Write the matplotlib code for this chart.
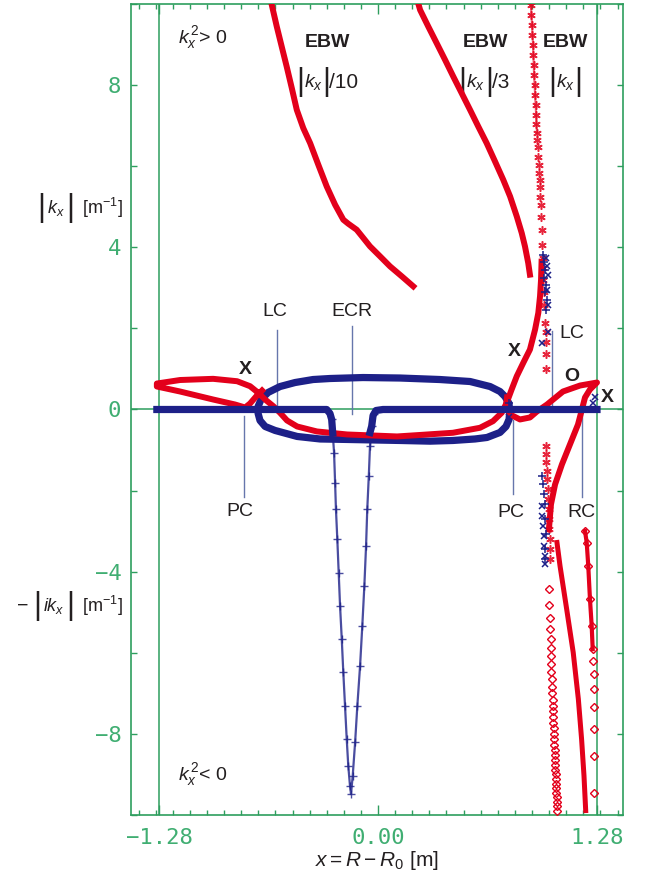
import matplotlib.pyplot as plt
from matplotlib.ticker import FixedLocator, MultipleLocator, FuncFormatter

plt.rcParams['font.family'] = ['Liberation Sans', 'DejaVu Sans']
plt.rcParams['mathtext.fontset'] = 'custom'
plt.rcParams['mathtext.rm'] = 'Liberation Sans'
plt.rcParams['mathtext.it'] = 'Liberation Sans:italic'
plt.rcParams['mathtext.bf'] = 'Liberation Sans:bold'

RED = '#e3001b'
BLUE = '#1d2088'
GREEN = '#2e9e5e'
TICKTEXT = '#40ae72'
GUIDE = '#6676ac'
INK = '#231f20'

# EBW branch, plotted as |kx|/10
ebw10_x = [-0.621, -0.592, -0.563, -0.534, -0.504, -0.475, -0.437, -0.397, -0.349, -0.300,
           -0.251, -0.203, -0.174, -0.125, -0.086, -0.047, 0.012, 0.070, 0.139, 0.206]
ebw10_y = [9.975, 9.443, 8.948, 8.456, 7.923, 7.389, 6.938, 6.569, 6.034, 5.500,
           5.049, 4.680, 4.581, 4.433, 4.229, 4.023, 3.776, 3.530, 3.283, 3.037]

# EBW branch, plotted as |kx|/3
ebw3_x = [0.236, 0.246, 0.294, 0.343, 0.392, 0.440, 0.489, 0.538, 0.586, 0.635,
          0.684, 0.732, 0.772, 0.811, 0.840, 0.859, 0.878, 0.888]
ebw3_y = [10.0, 9.852, 9.441, 9.032, 8.621, 8.209, 7.800, 7.389, 6.978, 6.569,
          6.116, 5.665, 5.254, 4.761, 4.352, 4.022, 3.613, 3.325]

# EBW branch, plotted as |kx| (asterisks), continuing into -|ikx|
ebw_x = [0.894, 0.897, 0.900, 0.903, 0.906, 0.908, 0.910, 0.912, 0.915, 0.918,
         0.921, 0.924, 0.926, 0.929, 0.931, 0.933, 0.937, 0.939, 0.943, 0.945,
         0.947, 0.949, 0.951, 0.954, 0.957, 0.959, 0.962, 0.964, 0.967, 0.970,
         0.973, 0.976, 0.980, 0.980, 0.980, 0.980,
         0.980, 0.980, 0.980, 0.985, 0.988, 0.991, 0.994, 0.997, 0.999, 1.002,
         1.005, 1.005, 1.005]
ebw_y = [9.975, 9.729, 9.483, 9.236, 8.990, 8.744, 8.497, 8.251, 8.005, 7.758,
         7.512, 7.266, 7.044, 6.823, 6.650, 6.478, 6.232, 6.035, 5.837, 5.665,
         5.493, 5.246, 5.049, 4.754, 4.433, 4.064, 3.744, 3.497, 3.202, 2.906,
         2.586, 2.143, 1.921, 1.675, 1.379, 1.010,
         -0.911, -1.108, -1.305, -1.527, -1.724, -1.970, -2.217, -2.463, -2.709, -2.956,
         -3.202, -3.448, -3.694]

# X / O branch on the high-field side (one continuous curve)
xo_x = [-0.678, -0.713, -0.748, -0.777, -0.836, -0.964, -1.157, -1.293,
        -1.293, -1.157, -0.964, -0.824, -0.748, -0.700, -0.660, -0.612, -0.573,
        -0.532, -0.473, -0.357, -0.181, 0.111, 0.246, 0.438, 0.596, 0.672,
        0.723, 0.752, 0.781, 0.811, 0.849, 0.888, 0.918, 0.937, 0.947, 0.953, 0.956]
xo_y = [0.468, 0.320, 0.148, 0.049, 0.123, 0.246, 0.443, 0.567,
        0.640, 0.727, 0.756, 0.697, 0.574, 0.411, 0.246, 0.081, -0.081,
        -0.271, -0.419, -0.542, -0.616, -0.665, -0.628, -0.574, -0.451, -0.288,
        -0.081, 0.165, 0.493, 0.820, 1.150, 1.478, 1.970, 2.382, 2.791, 3.202, 3.645]

# O-mode loop near the low-field edge
o_x = [0.754, 0.748, 0.772, 0.830, 0.888, 0.929, 0.988, 1.081, 1.181, 1.280,
       1.239, 1.210, 1.192, 1.169, 1.122, 1.075, 1.035, 1.011, 0.999]
o_y = [0.296, 0.099, -0.123, -0.246, -0.197, -0.049, 0.123, 0.443, 0.591, 0.665,
       0.493, 0.296, 0.0, -0.369, -0.862, -1.355, -1.847, -2.340, -2.956]

# evanescent branches (diamonds)
dmid_x = [1.001, 1.001, 1.005, 1.005, 1.009, 1.009, 1.011, 1.011, 1.013, 1.015,
          1.017, 1.019, 1.021, 1.021, 1.023, 1.025, 1.025, 1.027, 1.029, 1.029,
          1.031, 1.033, 1.033, 1.035, 1.037, 1.037, 1.039, 1.040, 1.040, 1.042,
          1.042, 1.044, 1.044, 1.046, 1.046]
dmid_y = [-4.416, -4.827, -5.148, -5.419, -5.665, -5.870, -6.076, -6.281, -6.470, -6.650,
          -6.831, -7.003, -7.167, -7.308, -7.446, -7.593, -7.734, -7.865, -8.005, -8.128,
          -8.268, -8.391, -8.522, -8.645, -8.768, -8.884, -8.998, -9.113, -9.236, -9.342,
          -9.458, -9.564, -9.672, -9.778, -9.894]

dthick_x = [1.046, 1.064, 1.103, 1.141, 1.171, 1.190, 1.204, 1.214]
dthick_y = [-3.28, -3.86, -4.93, -5.99, -7.14, -8.13, -9.03, -9.89]

dedge_x = [1.210, 1.220, 1.229, 1.239, 1.249, 1.255,
           1.259, 1.262, 1.262, 1.262, 1.262, 1.262, 1.264]
dedge_y = [-2.996, -3.284, -3.859, -4.680, -5.337, -5.911,
           -6.199, -6.527, -6.896, -7.332, -7.882, -8.554, -9.458]

# blue branches
loop_x = [0.769, 0.766, 0.742, 0.713, 0.655, 0.538, 0.362, 0.129, -0.088, -0.281,
          -0.380, -0.485, -0.573, -0.643, -0.684, -0.701, -0.701,
          -0.690, -0.660, -0.602, -0.473, -0.339, -0.181, 0.129, 0.304, 0.438,
          0.567, 0.637, 0.713, 0.748, 0.766, 0.769]
loop_y = [-0.099, 0.148, 0.320, 0.443, 0.566, 0.690, 0.739, 0.776, 0.788, 0.764,
          0.739, 0.665, 0.566, 0.419, 0.246, 0.074, -0.099,
          -0.271, -0.419, -0.517, -0.665, -0.727, -0.739, -0.764, -0.781, -0.764,
          -0.727, -0.690, -0.566, -0.419, -0.246, -0.099]

axis_left_x = [-1.293, -0.300, -0.281, -0.271, -0.265]
axis_left_y = [0.0, 0.0, -0.099, -0.246, -0.574]
axis_right_x = [-0.047, -0.037, -0.029, -0.012, 0.029, 1.280]
axis_right_y = [-0.567, -0.411, -0.148, -0.025, 0.0, 0.0]

ecr_x = [-0.271, -0.265, -0.257, -0.251, -0.246, -0.238, -0.230, -0.222, -0.212,
         -0.203, -0.193, -0.183, -0.174, -0.164, -0.158,
         -0.148, -0.134, -0.121, -0.105, -0.092, -0.080, -0.070, -0.063, -0.054,
         -0.047, -0.037, -0.023]
ecr_y = [-0.246, -0.574, -1.067, -1.805, -2.463, -3.202, -4.022, -4.845, -5.665,
         -6.485, -7.308, -8.128, -8.786, -9.278, -9.483,
         -9.032, -8.209, -7.308, -6.323, -5.337, -4.352, -3.367, -2.463, -1.643,
         -0.904, -0.411, -0.123]

plus_x = [0.964, 0.970, 0.976, 0.970, 0.982, 0.976, 0.988, 0.982,
          0.957, 0.964, 0.970, 0.976, 0.976, 0.982, 0.976, 0.976, 0.766]
plus_y = [3.817, 3.645, 3.448, 3.251, 3.079, 2.906, 2.709, 2.463,
          -1.650, -1.847, -2.094, -2.340, -2.709, -3.079, -3.448, -3.694, 0.172]
cross_x = [0.982, 0.988, 0.994, 0.988, 0.994, 0.996, 0.960,
           0.957, 0.959, 0.964, 0.970, 0.970, 0.976, 0.976, 1.268, 1.257, 0.766]
cross_y = [3.744, 3.547, 3.325, 2.956, 2.586, 1.921, 1.650,
           -2.389, -2.635, -2.882, -3.128, -3.374, -3.620, -3.817, 0.296, 0.148, -0.197]

fig = plt.figure(figsize=(6.48, 8.81), dpi=100)
ax = fig.add_axes([0.2022, 0.0749, 0.7592, 0.9206])
ax.set_xlim(-1.444, 1.432)
ax.set_ylim(-10, 10)

# reference lines
ax.axhline(0, color=GREEN, lw=1.1, zorder=1)
for xv in (-1.28, 1.28):
    ax.axvline(xv, color=GREEN, lw=1.1, zorder=1)

# cutoff / resonance guide lines
for xv, y0, y1 in [(-0.592, 1.97, -0.05), (-0.154, 2.05, -0.12), (-0.781, -0.16, -2.17),
                   (0.787, -0.25, -2.09), (1.015, 1.93, -0.04), (1.194, -0.04, -2.17)]:
    ax.plot([xv, xv], [y0, y1], color=GUIDE, lw=1.0, zorder=2)

# blue curves
ax.plot(loop_x, loop_y, color=BLUE, lw=5.2, solid_capstyle='round', zorder=3)
ax.plot(ecr_x, ecr_y, color=BLUE, lw=1.6, marker='+', ms=5.5, mew=1.0, alpha=0.8, zorder=3)

# red curves
ax.plot(ebw10_x, ebw10_y, color=RED, lw=4.3, zorder=4)
ax.plot(ebw3_x, ebw3_y, color=RED, lw=4.3, zorder=4)
ax.plot(xo_x, xo_y, color=RED, lw=4.3, solid_joinstyle='round', zorder=4)
ax.plot(o_x, o_y, color=RED, lw=4.3, solid_joinstyle='round', zorder=4)
ax.plot(ebw_x[:14], ebw_y[:14], color=RED, lw=1.5, alpha=0.6, zorder=4)
ax.plot(ebw_x, ebw_y, ls='none', marker=(6, 2, 0), ms=6, mew=1.1, color=RED, alpha=0.85, zorder=5)
ax.plot(dmid_x, dmid_y, ls='none', marker='D', ms=3.8, mfc='none', mew=1.0, color=RED, zorder=4)
ax.plot(dthick_x, dthick_y, color=RED, lw=3.6, zorder=4)
ax.plot(dedge_x[:6], dedge_y[:6], color=RED, lw=3.0, zorder=4)
ax.plot(dedge_x, dedge_y, ls='none', marker='D', ms=3.8, mfc='none', mew=1.0, color=RED, zorder=4)

# blue on top
ax.plot(axis_left_x, axis_left_y, color=BLUE, lw=5.2, zorder=6)
ax.plot(axis_right_x, axis_right_y, color=BLUE, lw=5.2, zorder=6)
ax.plot(plus_x, plus_y, ls='none', marker='+', ms=5.5, mew=1.1, color=BLUE, zorder=6)
ax.plot(cross_x, cross_y, ls='none', marker='x', ms=4.5, mew=1.1, color=BLUE, zorder=6)

# axes styling
for sp in ax.spines.values():
    sp.set_color(GREEN)
    sp.set_linewidth(1.2)
ax.xaxis.set_major_locator(FixedLocator([-1.28, 0.0, 1.28]))
ax.xaxis.set_minor_locator(MultipleLocator(0.1))
ax.xaxis.set_major_formatter(FuncFormatter(lambda v, p: f'{v:.2f}'.replace('-', '\u2212')))
ax.yaxis.set_major_locator(MultipleLocator(2))
ax.yaxis.set_major_formatter(FuncFormatter(
    lambda v, p: (f'{v:.0f}'.replace('-', '\u2212') if round(v) % 4 == 0 and abs(v) < 9.5 else '')))
ax.tick_params(axis='both', which='both', direction='in', colors=GREEN, labelcolor=TICKTEXT,
               top=True, right=True, labelsize=16, width=1.0)
ax.tick_params(axis='x', which='major', length=7, pad=9)
ax.tick_params(axis='x', which='minor', length=3.3)
ax.tick_params(axis='y', which='major', length=4.3, pad=7)
for lab in ax.get_xticklabels() + ax.get_yticklabels():
    lab.set_family('DejaVu Sans Mono')


def abs_label(xl, xk, xr, y, inner, size=14):
    # |inner| with tall bars, as in the printed figure
    ax.text(xl, y, '|', fontsize=22, color=INK, ha='center', va='center', clip_on=False)
    ax.text(xk, y, inner, fontsize=size, color=INK, ha='center', va='center', clip_on=False)
    ax.text(xr, y, '|', fontsize=22, color=INK, ha='center', va='center', clip_on=False)


# annotations
tkw = dict(color=INK, ha='center', va='center', zorder=7)
ax.text(-1.169, 9.16, r'$k_x^{\,2}$> 0', fontsize=14, color=INK, ha='left', va='center')
ax.text(-1.169, -8.99, r'$k_x^{\,2}$< 0', fontsize=14, color=INK, ha='left', va='center')
ax.text(-0.298, 9.05, 'EBW', fontsize=14, fontweight='bold', **tkw)
ax.text(0.625, 9.05, 'EBW', fontsize=14, fontweight='bold', **tkw)
ax.text(1.093, 9.05, 'EBW', fontsize=14, fontweight='bold', **tkw)

abs_label(-0.456, -0.378, -0.302, 8.07, r'$k_x$')
ax.text(-0.284, 8.07, '/10', fontsize=15, color=INK, ha='left', va='center')
abs_label(0.494, 0.572, 0.650, 8.07, r'$k_x$')
ax.text(0.668, 8.07, '/3', fontsize=15, color=INK, ha='left', va='center')
abs_label(1.016, 1.094, 1.172, 8.07, r'$k_x$')

ax.text(-0.602, 2.41, 'LC', fontsize=14, **tkw)
ax.text(-0.152, 2.41, 'ECR', fontsize=14, **tkw)
ax.text(-0.807, -2.51, 'PC', fontsize=14, **tkw)
ax.text(0.775, -2.55, 'PC', fontsize=14, **tkw)
ax.text(1.131, 1.88, 'LC', fontsize=14, **tkw)
ax.text(1.190, -2.55, 'RC', fontsize=14, **tkw)
ax.text(-0.777, 0.985, 'X', fontsize=14, fontweight='bold', **tkw)
ax.text(0.795, 1.43, 'X', fontsize=14, fontweight='bold', **tkw)
ax.text(1.132, 0.82, 'O', fontsize=14, fontweight='bold', **tkw)
ax.text(1.342, 0.29, 'X', fontsize=14, fontweight='bold', **tkw)

# y-axis captions for the two halves
abs_label(-1.966, -1.884, -1.802, 4.975, r'$k_x$', size=13)
ax.text(-1.730, 4.975, r'[m$^{-1}$]', fontsize=13, color=INK, ha='left', va='center', clip_on=False)
ax.text(-2.075, -4.85, '\u2212', fontsize=14, color=INK, ha='center', va='center', clip_on=False)
abs_label(-1.990, -1.894, -1.802, -4.85, r'$ik_x$', size=13)
ax.text(-1.730, -4.85, r'[m$^{-1}$]', fontsize=13, color=INK, ha='left', va='center', clip_on=False)

ax.set_xlabel(r'$x = R - R_0$ [m]', fontsize=15, color=INK, labelpad=1)

fig.savefig('out.png', dpi=100)
